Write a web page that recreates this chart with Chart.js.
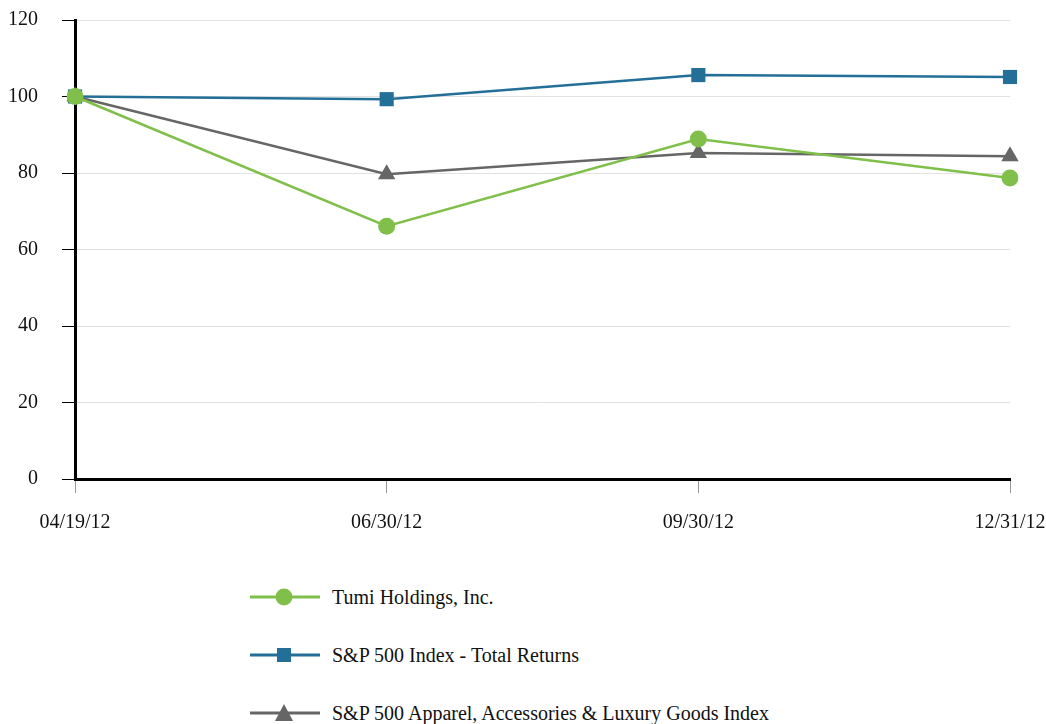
<!DOCTYPE html>
<html>
<head>
<meta charset="utf-8">
<script src="https://cdn.jsdelivr.net/npm/chart.js@4/dist/chart.umd.min.js"></script>
<style>
  html, body { margin:0; padding:0; background:#fff; }
  #wrap { position:relative; width:1046px; height:724px; }
  #chartBox { position:absolute; left:0; top:0; width:1046px; height:560px; }
  #legend { position:absolute; left:250px; top:568px; font-family:"Liberation Serif","Times New Roman",serif; font-size:20px; color:#111; }
  .item { display:flex; align-items:center; height:58px; }
  .item svg { margin-right:12px; }
</style>
</head>
<body>
<div id="wrap">
  <div id="chartBox"><canvas id="chart"></canvas></div>
  <div id="legend"></div>
</div>
<script>
// tick labels / categories
const dates = ['04/19/12', '06/30/12', '09/30/12', '12/31/12'];

// series values
const tumi = [100, 66.1, 88.9, 78.7];
const sp500 = [100, 99.3, 105.6, 105.1];
const apparel = [100, 79.7, 85.2, 84.4];

const seriesNames = ['Tumi Holdings, Inc.', 'S&P 500 Index - Total Returns', 'S&P 500 Apparel, Accessories & Luxury Goods Index'];
const seriesColors = ['#7fbf4a', '#236f98', '#666666'];
const seriesMarkers = ['circle', 'rect', 'triangle'];
const seriesSizes = [8.5, 10, 10];

const serif = '"Liberation Serif","Times New Roman",serif';
const allData = [tumi, sp500, apparel];

const datasets = allData.map((d, i) => ({
  label: seriesNames[i],
  data: d,
  borderColor: seriesColors[i],
  backgroundColor: seriesColors[i],
  borderWidth: 2.5,
  pointStyle: seriesMarkers[i],
  pointRadius: seriesSizes[i],
  pointHoverRadius: seriesSizes[i],
  pointBorderWidth: 0,
  tension: 0,
  fill: false
}));
// draw order: green on top
datasets[0].order = 0; datasets[1].order = 2; datasets[2].order = 1;

new Chart(document.getElementById('chart').getContext('2d'), {
  type: 'line',
  data: { labels: dates, datasets },
  options: {
    responsive: true,
    maintainAspectRatio: false,
    animation: false,
    layout: { padding: { top: 20, right: 36, left: 0, bottom: 0 } },
    plugins: { legend: { display: false }, tooltip: { enabled: false } },
    scales: {
      x: {
        offset: false,
        afterFit: s => { s.height = 81; s.paddingLeft = 0; s.paddingRight = 0; },
        grid: { drawOnChartArea: false, tickLength: 14, tickColor: '#999', tickWidth: 1 },
        border: { color: '#000', width: 3 },
        ticks: { color: '#111', font: { family: serif, size: 20 }, padding: 18, maxRotation: 0 }
      },
      y: {
        min: 0, max: 120,
        afterFit: s => { s.width = 75; s.paddingTop = 0; s.paddingBottom = 0; },
        grid: { color: '#e2e2e2', lineWidth: 1, tickLength: 13, tickColor: '#000', tickWidth: 1 },
        border: { color: '#000', width: 3 },
        ticks: { stepSize: 20, color: '#111', font: { family: serif, size: 20 }, padding: 24 }
      }
    }
  }
});

// legend: line + marker + real text
const legend = document.getElementById('legend');
seriesNames.forEach((name, i) => {
  const c = seriesColors[i];
  let mark;
  if (seriesMarkers[i] === 'circle') mark = `<circle cx="34" cy="11" r="8.5" fill="${c}"/>`;
  else if (seriesMarkers[i] === 'rect') mark = `<rect x="27" y="4" width="14" height="14" fill="${c}"/>`;
  else mark = `<polygon points="34,2 43,19 25,19" fill="${c}"/>`;
  const row = document.createElement('div');
  row.className = 'item';
  row.innerHTML = `<svg width="70" height="22"><line x1="0" y1="11" x2="70" y2="11" stroke="${c}" stroke-width="3"/>${mark}</svg><span>${name.replace(/&/g,'&amp;')}</span>`;
  legend.appendChild(row);
});
</script>
</body>
</html>
